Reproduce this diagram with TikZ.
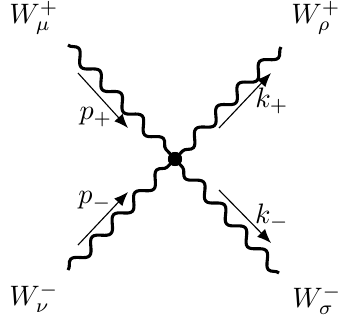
\documentclass[tikz,border=0pt]{standalone}
\usetikzlibrary{decorations.pathmorphing,arrows.meta}
\tikzset{
  boson/.style={line width=1.1pt,decorate,decoration={snake,amplitude=2pt,segment length=11pt}},
  mom/.style={-{Latex[length=5pt,width=4pt]},thin},
  vtx/.style={circle,fill,inner sep=0pt,minimum size=5pt}
}
\begin{document}
\begin{tikzpicture}[x=0.0125cm,y=-0.0125cm]
\useasboundingbox (0,0) rectangle (338,325);
\coordinate (A) at (68,45); \coordinate (B) at (281,47); \coordinate (C) at (68,270); \coordinate (D) at (279,273);
\node[vtx] (v) at (175,159) {};
\draw[boson] (A)--(v.center);
\draw[boson] (B)--(v.center);
\draw[boson] (C)--(v.center);
\draw[boson] (D)--(v.center);
\node[vtx] at (v) {};
% momenta
\coordinate (pp1) at (78,73); \coordinate (pp2) at (128,128);
\coordinate (kp1) at (219,128); \coordinate (kp2) at (271,73);
\coordinate (pm1) at (78,245); \coordinate (pm2) at (128,192);
\coordinate (km1) at (219,190); \coordinate (km2) at (271,243);
\draw[mom] (pp1)--(pp2);
\draw[mom] (kp1)--(kp2);
\draw[mom] (pm1)--(pm2);
\draw[mom] (km1)--(km2);
\node (lpp) at (96,117) {$p_+$};
\node (lkp) at (272,101) {$k_+$};
\node (lpm) at (95,201) {$p_-$};
\node (lkm) at (272,217) {$k_-$};
% external legs
\node (wmu) at (34,18) {$W_\mu^+$};
\node (wrho) at (316,18) {$W_\rho^+$};
\node (wnu) at (34,298) {$W_\nu^-$};
\node (wsig) at (317,300) {$W_\sigma^-$};
\end{tikzpicture}
\end{document}
